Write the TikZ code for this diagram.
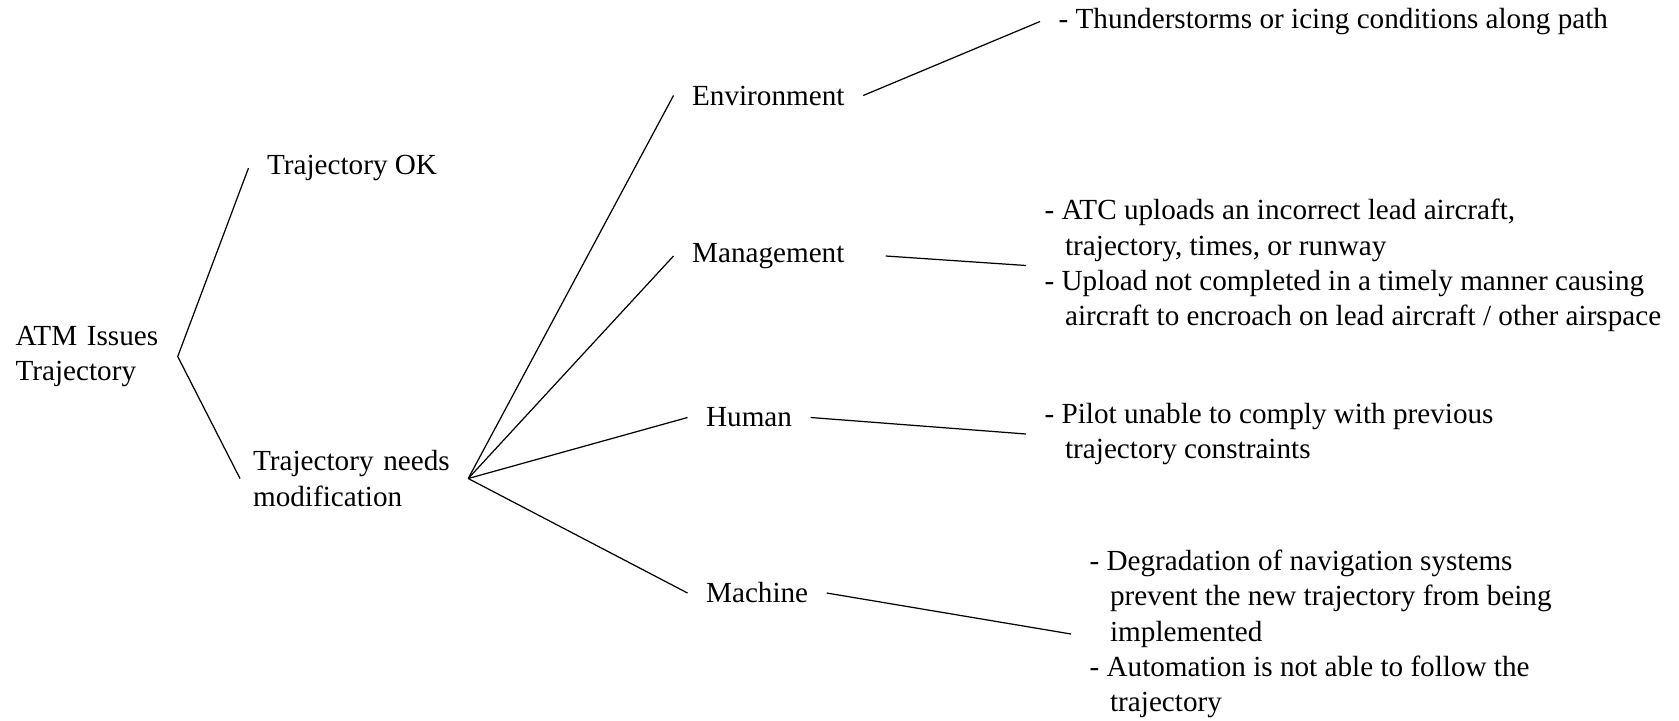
\documentclass[tikz,border=0pt]{standalone}
\usepackage{fontspec}
\setmainfont{Liberation Serif}
\newcommand{\hgap}{\hspace*{0.41cm}}
\begin{document}
\begin{tikzpicture}[line width=0.7pt,
  every node/.style={font=\fontsize{16.6}{20}\selectfont, anchor=west, align=left, inner xsep=0.36cm, inner ysep=2pt}]
\useasboundingbox (0,0) rectangle (33.58,-14.40);
% tree
\node[inner xsep=0pt, text width=3.23cm] (atm) at (0.30,-7.13) {ATM Issues\\Trajectory};
\node (ok) at (4.97,-3.36) {Trajectory OK};
\node[inner xsep=0.25cm, text width=4.04cm] (needs) at (4.80,-9.57) {Trajectory needs\\modification};
% causes
\node[text width=3.05cm] (env) at (13.47,-1.91) {Environment};
\node[text width=3.50cm] (mgmt) at (13.47,-5.12) {Management};
\node[text width=1.72cm] (human) at (13.75,-8.35) {Human};
\node[text width=2.04cm] (machine) at (13.75,-11.86) {Machine};
% details
\node (envtxt) at (20.80,-0.43) {- Thunderstorms or icing conditions along path};
\node (mgmttxt) at (20.52,-5.31) {- ATC uploads an incorrect lead aircraft,\\\hgap trajectory, times, or runway\\- Upload not completed in a timely manner causing\\\hgap aircraft to encroach on lead aircraft / other airspace};
\node (humantxt) at (20.52,-8.68) {- Pilot unable to comply with previous\\\hgap trajectory constraints};
\node (machinetxt) at (21.42,-12.68) {- Degradation of navigation systems\\\hgap prevent the new trajectory from being\\\hgap implemented\\- Automation is not able to follow the\\\hgap trajectory};
% connectors
\draw (ok.west) -- (atm.east) -- (needs.west);
\foreach \c in {env,mgmt,human,machine}
  \draw (needs.east) -- (\c.west);
\foreach \a/\b in {env/envtxt, mgmt/mgmttxt, human/humantxt, machine/machinetxt}
  \draw (\a.east) -- (\b.west);
\end{tikzpicture}
\end{document}
